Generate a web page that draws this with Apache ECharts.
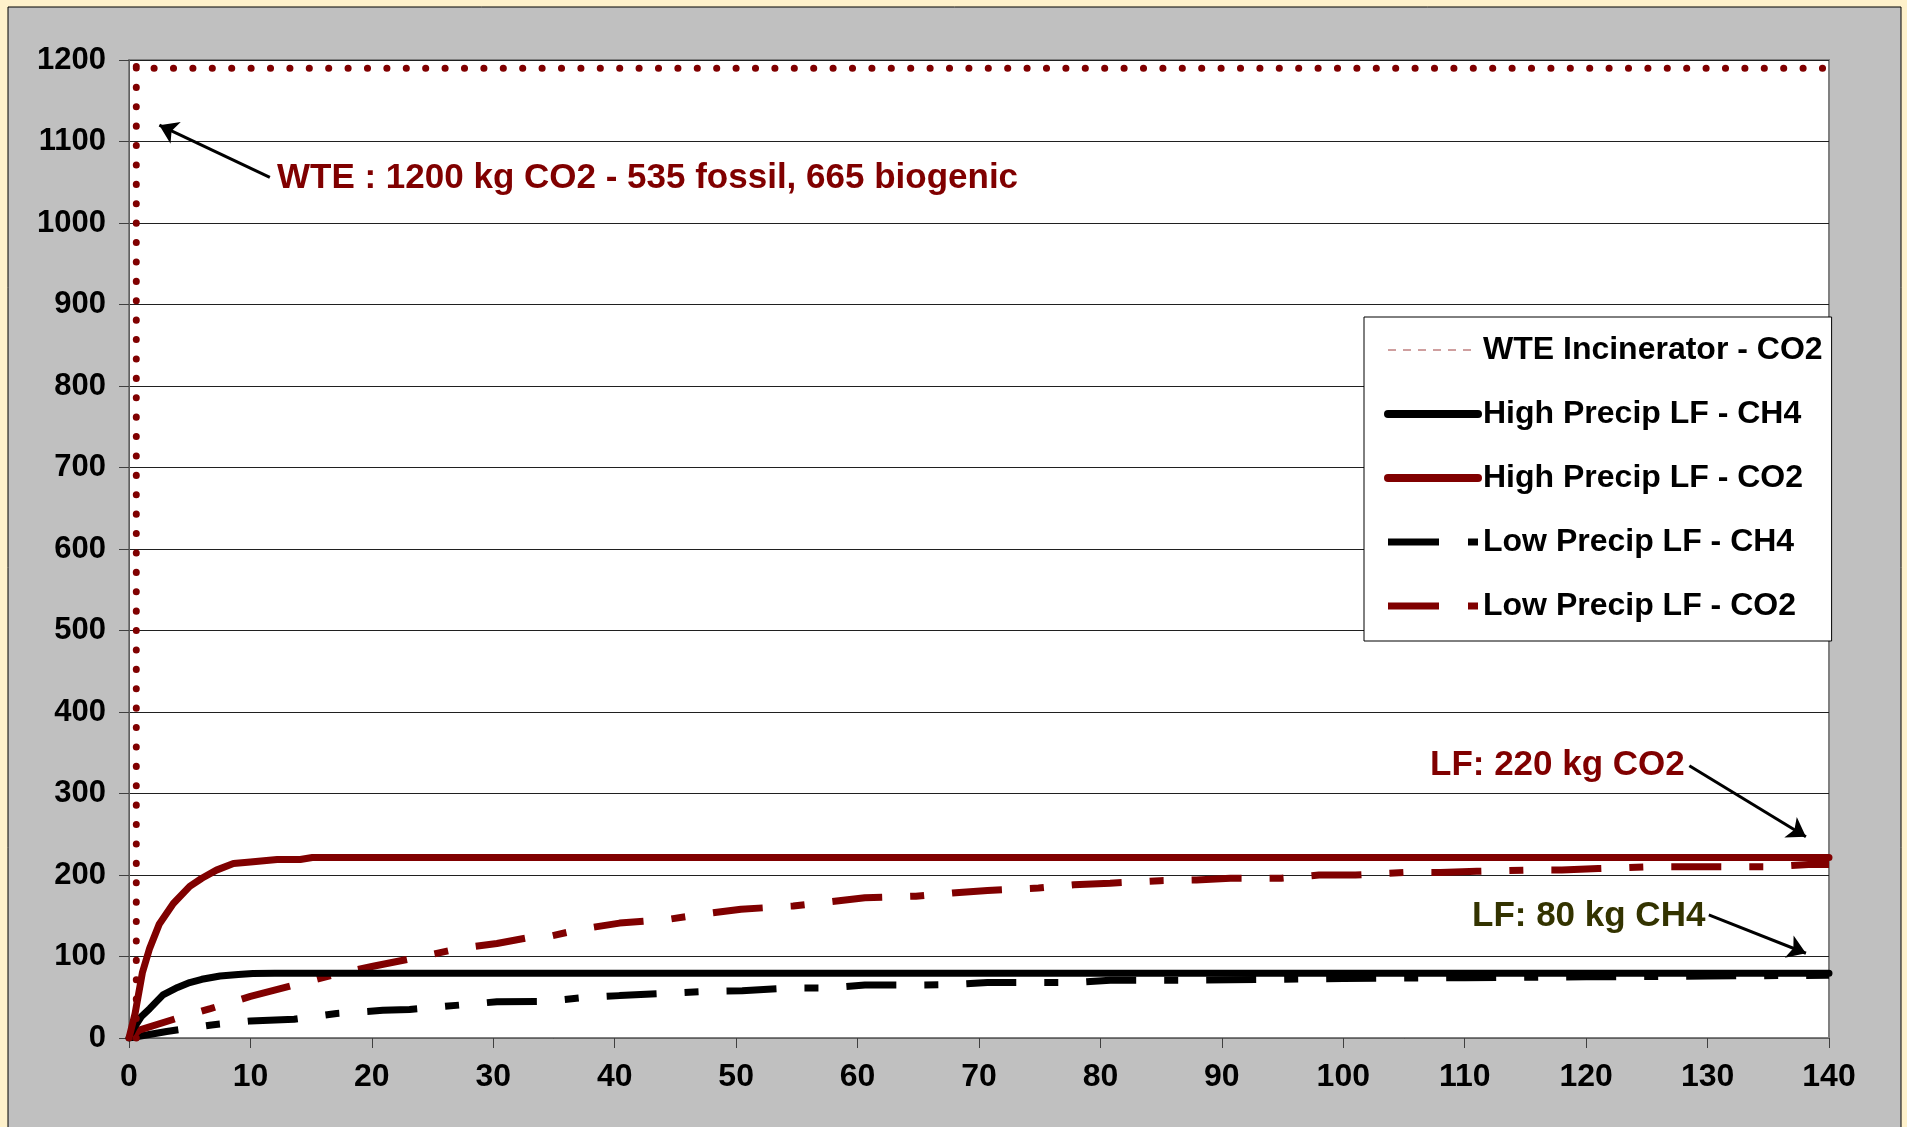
<!DOCTYPE html>
<html>
<head>
<meta charset="utf-8">
<script src="https://cdn.jsdelivr.net/npm/echarts@6/dist/echarts.min.js"></script>
<style>
	html,body{margin:0;padding:0;background:#FEF1CB;}
	#main{width:1907px;height:1127px;}
</style>
</head>
<body>
<div id="main"></div>
<script>
// series names (legend order)
const names = ['WTE Incinerator - CO2','High Precip LF - CH4','High Precip LF - CO2','Low Precip LF - CH4','Low Precip LF - CO2']

// [year, kg]
const wteCO2 = [[0.6,0],[0.6,1203],[0.6,1190],[140,1190]]
const highCH4 = [[0,0],[0.4,12],[1,26],[1.7,36],[2.8,53],[4,62],[5,68],[6,72],[7.5,76],[9,78],[10.2,79],[12,79.5],[140,79.5]]
const highCO2 = [[0,0],[0.5,30],[1.1,80],[1.7,110],[2.5,140],[3.65,165],[5,186],[6,196],[7.2,206],[8.6,214],[10,216],[11.1,217.5],[12.2,219],[14.1,219],[15.1,221.5],[140,221.5]]
const lowCH4 = [[0,0],[3.1,8],[6.8,16],[10,21],[13.6,23],[17.1,30],[20.9,34],[23.1,35],[27.3,40.5],[30.3,44.5],[34.4,45],[37.4,49.5],[40.4,52],[44.6,55],[47.4,57],[50.5,58],[54.7,61.5],[57.6,61.5],[60.6,65],[64.8,65],[67.8,65.5],[70.7,68],[75,68],[77.8,68],[80.8,71],[85,71],[88,71],[95,72],[100,73],[110,74],[120,75],[130,76],[140,77]]
const lowCO2 = [[0,0],[0.9,10],[3.9,24],[6.7,36],[10,51],[14.1,67],[17.1,78.5],[20.1,88],[24.1,100],[27.3,110],[30.3,116],[33,123.5],[34.4,124],[37.4,134],[40.4,141],[44.6,146],[47.5,152.5],[50.4,158],[54.7,162],[57.6,167],[60.6,172],[64.8,174],[67.8,178],[70.7,181],[74.9,184],[77.8,188],[80.8,190],[84.9,193],[87.9,194],[90.7,196],[94.9,196],[98,200],[101,200],[105,203],[108,203],[111,204.5],[115,206],[118,206],[121,208],[125,210],[128,210],[131,210],[135,210],[138.3,213],[140,213]]

// annotation arrows: [from, to] in data coords
const arrows = [
	[[11.6,1056],[2.5,1120]],
	[[128.5,334],[138.1,247]],
	[[130.1,151],[138.1,104]]
]

const red = '#800000'
const font = '"Liberation Sans", Arial, sans-serif'
const dashDot = [50,28,14,28]

const chart = echarts.init(document.getElementById('main'))
chart.setOption({
	animation:false,
	textStyle:{fontFamily:font},
	graphic:[
		{type:'rect',z:-1,shape:{x:8,y:7,width:1893,height:1130},style:{fill:'#C0C0C0',stroke:'#000',lineWidth:1}},
		{type:'text',z:100,x:277,y:178,style:{text:'WTE : 1200 kg CO2 - 535 fossil, 665 biogenic',font:'bold 35px ' + font,fill:red,textVerticalAlign:'middle'}},
		{type:'text',z:100,x:1430,y:765,style:{text:'LF: 220 kg CO2',font:'bold 35px ' + font,fill:red,textVerticalAlign:'middle'}},
		{type:'text',z:100,x:1472,y:916,style:{text:'LF: 80 kg CH4',font:'bold 35px ' + font,fill:'#333300',textVerticalAlign:'middle'}}
	],
	grid:{
		left:129,right:78,top:60,bottom:89,
		show:true,backgroundColor:'#fff',borderColor:'#808080',borderWidth:2
	},
	legend:{
		orient:'vertical',
		left:1364,top:317,
		padding:[13,9,15,20],
		itemWidth:90,itemHeight:14,itemGap:24,
		backgroundColor:'#fff',borderColor:'#000',borderWidth:1,
		itemStyle:{opacity:0},
		textStyle:{fontSize:32,fontWeight:'bold',color:'#000',lineHeight:40,fontFamily:font},
		data:[
			{name:names[0],lineStyle:{color:'#C08080',width:1.5,type:[8,7],cap:'butt'}},
			{name:names[1],lineStyle:{color:'#000',width:8,type:'solid',cap:'round'}},
			{name:names[2],lineStyle:{color:red,width:8,type:'solid',cap:'round'}},
			{name:names[3],lineStyle:{color:'#000',width:7,type:[51,29,10,28],cap:'butt'}},
			{name:names[4],lineStyle:{color:red,width:7,type:[51,29,10,28],cap:'butt'}}
		]
	},
	xAxis:{
		type:'value',min:0,max:140,interval:10,
		axisLine:{lineStyle:{color:'#606060',width:1}},
		axisTick:{length:10,lineStyle:{color:'#404040'}},
		axisLabel:{margin:23,fontSize:32,fontWeight:'bold',color:'#000',fontFamily:font},
		splitLine:{show:false}
	},
	yAxis:{
		type:'value',min:0,max:1200,interval:100,
		axisLine:{show:true,lineStyle:{color:'#606060',width:1}},
		axisTick:{show:true,length:10,lineStyle:{color:'#404040'}},
		axisLabel:{
			margin:23,fontSize:31,fontWeight:'bold',color:'#000',fontFamily:font,
			formatter:function(v){return String(v)}
		},
		splitLine:{lineStyle:{color:'#202020',width:1}}
	},
	series:[
		{
			name:names[3],type:'line',data:lowCH4,symbol:'none',
			lineStyle:{color:'#000',width:7,type:dashDot,cap:'butt'},itemStyle:{color:'#000'}
		},
		{
			name:names[4],type:'line',data:lowCO2,symbol:'none',
			lineStyle:{color:red,width:7,type:dashDot,cap:'butt'},itemStyle:{color:red}
		},
		{
			name:names[1],type:'line',data:highCH4,symbol:'none',
			lineStyle:{color:'#000',width:7,cap:'round',join:'round'},itemStyle:{color:'#000'}
		},
		{
			name:names[2],type:'line',data:highCO2,symbol:'none',
			lineStyle:{color:red,width:7,cap:'round',join:'round'},itemStyle:{color:red}
		},
		{
			name:names[0],type:'line',data:wteCO2,symbol:'none',clip:false,
			lineStyle:{color:red,width:7,type:[0.1,19.3],cap:'round'},itemStyle:{color:red},
			markLine:{
				silent:true,
				symbol:['none','arrow'],
				symbolSize:18,
				label:{show:false},
				lineStyle:{color:'#000',width:3,type:'solid'},
				data:arrows.map(function(a){
					return [{coord:a[0]},{coord:a[1]}]
				})
			}
		}
	]
})
</script>
</body>
</html>
